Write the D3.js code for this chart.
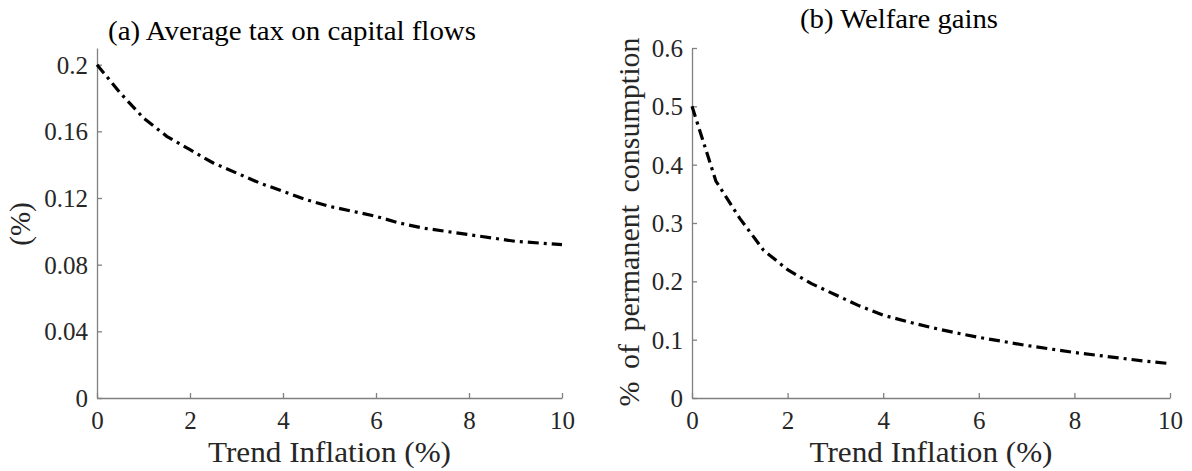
<!DOCTYPE html>
<html>
<head>
<meta charset="utf-8">
<script src="https://cdn.jsdelivr.net/npm/d3@7"></script>
<style>
  html, body { margin: 0; padding: 0; background: #fff; }
  svg { display: block; }
</style>
</head>
<body>
<svg id="chart" width="1192" height="471" font-family="Liberation Serif"></svg>
<script>
// ---------- data ----------
const inflation = [0, 0.5, 1, 1.5, 2, 2.5, 3, 3.5, 4, 4.5, 5, 5.5, 6, 6.5, 7, 7.5, 8, 8.5, 9, 9.5, 10];
const avgTax = [0.200, 0.183, 0.168, 0.157, 0.149, 0.141, 0.135, 0.129, 0.124, 0.119, 0.115, 0.112, 0.109, 0.105, 0.102, 0.100, 0.098, 0.096, 0.094, 0.093, 0.092];
const welfareGains = [0.500, 0.372, 0.308, 0.253, 0.220, 0.196, 0.177, 0.158, 0.142, 0.131, 0.121, 0.112, 0.104, 0.097, 0.090, 0.084, 0.078, 0.073, 0.068, 0.063, 0.059];
const xTicks = [0, 2, 4, 6, 8, 10];
const taxTicks = [0, 0.04, 0.08, 0.12, 0.16, 0.2];
const taxTickLabels = ["0", "0.04", "0.08", "0.12", "0.16", "0.2"];
const welfareTicks = [0, 0.1, 0.2, 0.3, 0.4, 0.5, 0.6];
const welfareTickLabels = ["0", "0.1", "0.2", "0.3", "0.4", "0.5", "0.6"];
const titles = ["(a) Average tax on capital flows", "(b) Welfare gains"];
const xLabel = "Trend Inflation (%)";
const yLabels = ["(%)", "% of permanent consumption"];

// ---------- layout ----------
const FONT = "Liberation Serif";
const svg = d3.select("#chart");
const axisColor = "#808080";
const panels = [
  { x0: 97, x1: 562, yTop: 48, yBot: 398, yMax: 0.21, values: avgTax, yTicks: taxTicks, yTickLabels: taxTickLabels,
    title: titles[0], titleX: 292, titleY: 40, titleLen: 368,
    yLabel: yLabels[0], yLabelX: 20, yLabelY: 224, yLabelSize: 29, wordSpacing: 0 },
  { x0: 692, x1: 1170, yTop: 48, yBot: 398, yMax: 0.6, values: welfareGains, yTicks: welfareTicks, yTickLabels: welfareTickLabels,
    title: titles[1], titleX: 899, titleY: 28, titleLen: 198,
    yLabel: yLabels[1], yLabelX: 628, yLabelY: 222, yLabelSize: 30, wordSpacing: 5 }
];

panels.forEach(p => {
  const x = d3.scaleLinear().domain([0, 10]).range([p.x0, p.x1]);
  const y = d3.scaleLinear().domain([0, p.yMax]).range([p.yBot, p.yTop]);
  const g = svg.append("g").attr("font-family", FONT);

  // x axis
  const xa = g.append("g").attr("transform", `translate(0,${p.yBot})`)
    .call(d3.axisBottom(x).tickValues(xTicks).tickFormat(d3.format("d")).tickSizeInner(-5).tickSizeOuter(0).tickPadding(13));
  // y axis
  const ya = g.append("g").attr("transform", `translate(${p.x0},0)`)
    .call(d3.axisLeft(y).tickValues(p.yTicks).tickFormat((d, i) => p.yTickLabels[i]).tickSizeInner(-5).tickSizeOuter(0).tickPadding(9));

  [xa, ya].forEach(a => {
    a.attr("font-family", FONT).attr("font-size", 25);
    a.select(".domain").attr("stroke", axisColor).attr("stroke-width", 1.3);
    a.selectAll(".tick line").attr("stroke", axisColor).attr("stroke-width", 1.3);
    a.selectAll(".tick text").attr("fill", "#262626")
      .attr("font-family", FONT).attr("font-size", 25);
  });
  xa.selectAll(".tick text").attr("dy", "0.71em");
  ya.selectAll(".tick text").attr("dy", "0.34em");

  // line
  const line = d3.line().x((d, i) => x(inflation[i])).y(d => y(d));
  g.append("path").datum(p.values)
    .attr("d", line)
    .attr("fill", "none")
    .attr("stroke", "#000")
    .attr("stroke-width", 3.2)
    .attr("stroke-dasharray", "11,5,3,5");

  // title
  g.append("text").attr("x", p.titleX).attr("y", p.titleY)
    .attr("text-anchor", "middle").attr("fill", "#000")
    .attr("font-family", FONT).attr("font-size", 27)
    .attr("textLength", p.titleLen).attr("lengthAdjust", "spacingAndGlyphs")
    .text(p.title);

  // x label
  g.append("text").attr("x", (p.x0 + p.x1) / 2).attr("y", 462)
    .attr("text-anchor", "middle").attr("fill", "#262626")
    .attr("font-family", FONT).attr("font-size", 29)
    .attr("textLength", 243).attr("lengthAdjust", "spacingAndGlyphs")
    .text(xLabel);

  // y label
  g.append("text")
    .attr("transform", `translate(${p.yLabelX},${p.yLabelY}) rotate(-90)`)
    .attr("text-anchor", "middle").attr("dy", "0.35em").attr("fill", "#262626")
    .attr("font-family", FONT).attr("font-size", p.yLabelSize)
    .attr("word-spacing", p.wordSpacing)
    .text(p.yLabel);
});
</script>
</body>
</html>
